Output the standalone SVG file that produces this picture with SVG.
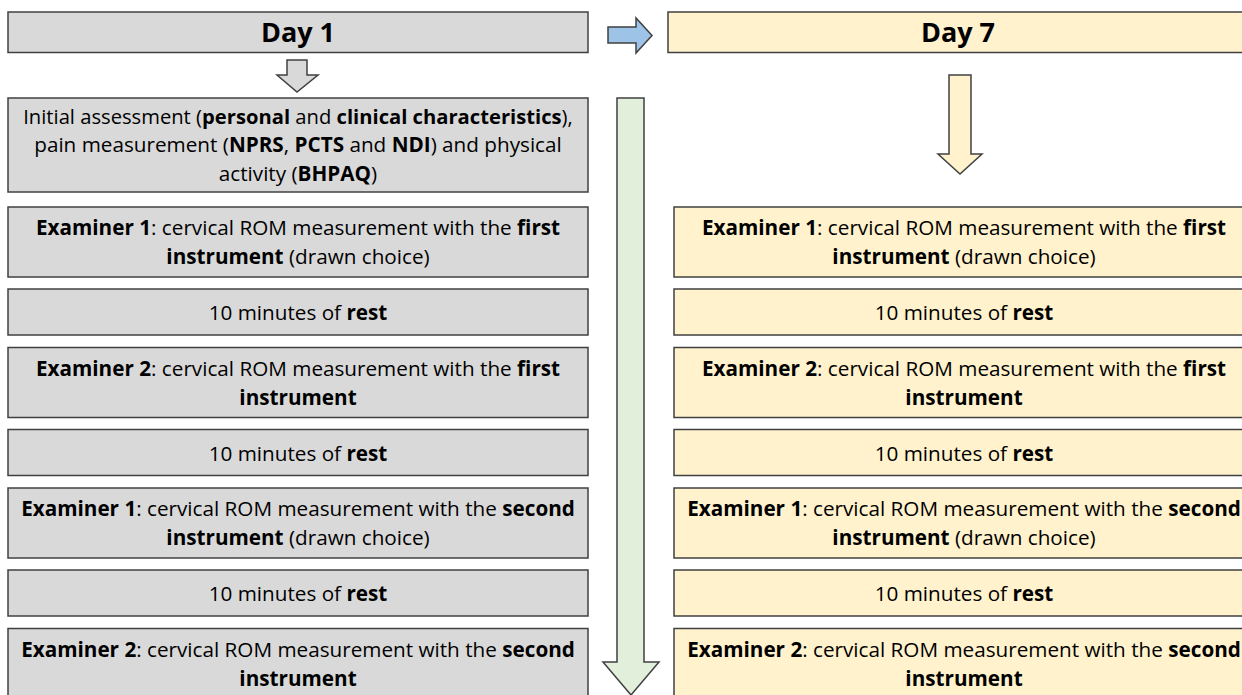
<svg xmlns="http://www.w3.org/2000/svg" width="1242" height="695" viewBox="0 0 1242 695">
<style>
text{font-family:"Open Sans","Liberation Sans",sans-serif;font-size:20.7px;fill:#000;text-anchor:middle}
.b{font-weight:bold}
.h{font-size:27px;font-weight:bold}
.s{font-size:20.2px}
.g{fill:#d9d9d9;stroke:#404040;stroke-width:1.5}
.y{fill:#fff2cc;stroke:#404040;stroke-width:1.5}
.ar{stroke:#404040;stroke-width:1.5}
</style>
<rect width="1242" height="695" fill="#fff"/>
<g id="day1"><rect class="g" x="8" y="12" width="580" height="40.5"/><text class="h" x="298" y="42">Day 1</text></g>
<g id="day7"><rect class="y" x="668" y="12" width="580" height="40.5"/><text class="h" x="958" y="42">Day 7</text></g>
<g id="connectors">
<polygon class="ar" fill="#d9d9d9" points="287,60 307,60 307,75 318,75 297,92 277,75 287,75"/>
<polygon class="ar" fill="#9dc3e6" points="608,27 636,27 636,18 652,35.5 636,53 636,43 608,43"/>
<polygon class="ar" fill="#e2efda" points="617,98 644,98 644,662 659,662 631,695 603,662 617,662"/>
<polygon class="ar" fill="#fff2cc" points="949,75 971,75 971,154 982,154 960,174 938,154 949,154"/>
</g>
<g id="l0"><rect class="g" x="8" y="98" width="580" height="94"/>
<text class="s" x="298" y="124">Initial assessment (<tspan class="b">personal</tspan> and <tspan class="b">clinical characteristics</tspan>),</text>
<text x="298" y="152">pain measurement (<tspan class="b">NPRS</tspan>, <tspan class="b">PCTS</tspan> and <tspan class="b">NDI</tspan>) and physical</text>
<text x="298" y="181">activity (<tspan class="b">BHPAQ</tspan>)</text></g>
<g id="l1"><rect class="g" x="8" y="207" width="580" height="70"/>
<text x="298" y="235"><tspan class="b">Examiner 1</tspan>: cervical ROM measurement with the <tspan class="b">first</tspan></text>
<text x="298" y="264"><tspan class="b">instrument</tspan> (drawn choice)</text></g>
<g id="l2"><rect class="g" x="8" y="289" width="580" height="46"/><text x="298" y="320">10 minutes of <tspan class="b">rest</tspan></text></g>
<g id="l3"><rect class="g" x="8" y="347.5" width="580" height="70"/>
<text x="298" y="375.5"><tspan class="b">Examiner 2</tspan>: cervical ROM measurement with the <tspan class="b">first</tspan></text>
<text x="298" y="404.5" class="b">instrument</text></g>
<g id="l4"><rect class="g" x="8" y="429.5" width="580" height="46"/><text x="298" y="460.5">10 minutes of <tspan class="b">rest</tspan></text></g>
<g id="l5"><rect class="g" x="8" y="488" width="580" height="70"/>
<text x="298" y="516"><tspan class="b">Examiner 1</tspan>: cervical ROM measurement with the <tspan class="b">second</tspan></text>
<text x="298" y="545"><tspan class="b">instrument</tspan> (drawn choice)</text></g>
<g id="l6"><rect class="g" x="8" y="570" width="580" height="46"/><text x="298" y="601">10 minutes of <tspan class="b">rest</tspan></text></g>
<g id="l7"><rect class="g" x="8" y="628.5" width="580" height="70"/>
<text x="298" y="656.5"><tspan class="b">Examiner 2</tspan>: cervical ROM measurement with the <tspan class="b">second</tspan></text>
<text x="298" y="685.5" class="b">instrument</text></g>
<g id="r1"><rect class="y" x="674" y="207" width="580" height="70"/>
<text x="964" y="235"><tspan class="b">Examiner 1</tspan>: cervical ROM measurement with the <tspan class="b">first</tspan></text>
<text x="964" y="264"><tspan class="b">instrument</tspan> (drawn choice)</text></g>
<g id="r2"><rect class="y" x="674" y="289" width="580" height="46"/><text x="964" y="320">10 minutes of <tspan class="b">rest</tspan></text></g>
<g id="r3"><rect class="y" x="674" y="347.5" width="580" height="70"/>
<text x="964" y="375.5"><tspan class="b">Examiner 2</tspan>: cervical ROM measurement with the <tspan class="b">first</tspan></text>
<text x="964" y="404.5" class="b">instrument</text></g>
<g id="r4"><rect class="y" x="674" y="429.5" width="580" height="46"/><text x="964" y="460.5">10 minutes of <tspan class="b">rest</tspan></text></g>
<g id="r5"><rect class="y" x="674" y="488" width="580" height="70"/>
<text x="964" y="516"><tspan class="b">Examiner 1</tspan>: cervical ROM measurement with the <tspan class="b">second</tspan></text>
<text x="964" y="545"><tspan class="b">instrument</tspan> (drawn choice)</text></g>
<g id="r6"><rect class="y" x="674" y="570" width="580" height="46"/><text x="964" y="601">10 minutes of <tspan class="b">rest</tspan></text></g>
<g id="r7"><rect class="y" x="674" y="628.5" width="580" height="70"/>
<text x="964" y="656.5"><tspan class="b">Examiner 2</tspan>: cervical ROM measurement with the <tspan class="b">second</tspan></text>
<text x="964" y="685.5" class="b">instrument</text></g>
</svg>
